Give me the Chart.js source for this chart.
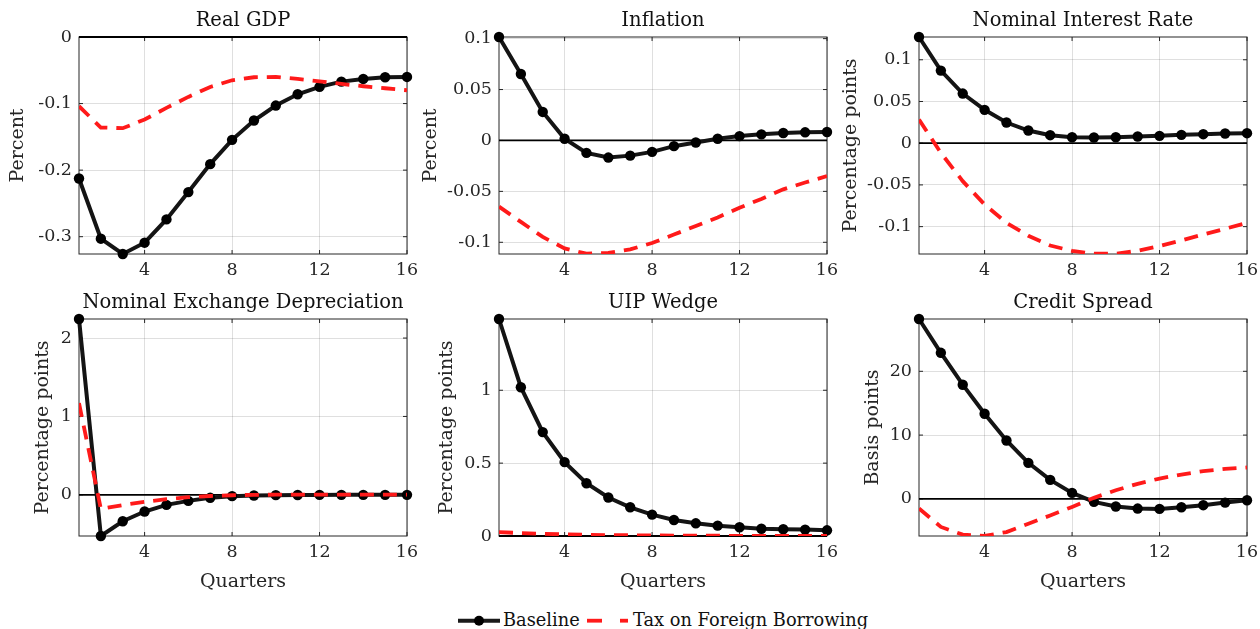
<!DOCTYPE html>
<html>
<head>
<meta charset="utf-8">
<script src="https://cdn.jsdelivr.net/npm/chart.js@4.4.1/dist/chart.umd.min.js"></script>
<style>
html,body{margin:0;padding:0;background:#fff;width:1260px;height:629px;overflow:hidden;}
.panel{position:absolute;}
.leg{position:absolute;font-family:'DejaVu Serif';font-size:17.8px;line-height:20px;color:#111;white-space:nowrap;}
svg{position:absolute;}
</style>
</head>
<body>
<div class="panel" style="left:0px;top:0px"><canvas id="c1" width="420" height="290"></canvas></div>
<div class="panel" style="left:420px;top:0px"><canvas id="c2" width="420" height="290"></canvas></div>
<div class="panel" style="left:840px;top:0px"><canvas id="c3" width="420" height="290"></canvas></div>
<div class="panel" style="left:0px;top:282px"><canvas id="c4" width="420" height="318"></canvas></div>
<div class="panel" style="left:420px;top:282px"><canvas id="c5" width="420" height="318"></canvas></div>
<div class="panel" style="left:840px;top:282px"><canvas id="c6" width="420" height="318"></canvas></div>

<svg style="left:456px;top:611px" width="48" height="20">
  <line x1="2" y1="9.7" x2="44" y2="9.7" stroke="#1a1a1a" stroke-width="4"/>
  <circle cx="23" cy="9.7" r="5" fill="#000"/>
</svg>
<div class="leg" style="left:503px;top:610px">Baseline</div>
<svg style="left:585px;top:611px" width="48" height="20">
  <line x1="2" y1="9.7" x2="17" y2="9.7" stroke="#ff1a1a" stroke-width="3.8"/>
  <line x1="35" y1="9.7" x2="43" y2="9.7" stroke="#ff1a1a" stroke-width="3.8"/>
</svg>
<div class="leg" style="left:633px;top:610px">Tax on Foreign Borrowing</div>

<script>
// ---------------- data ----------------
const quarters = [1,2,3,4,5,6,7,8,9,10,11,12,13,14,15,16];
const xTicks = [4, 8, 12, 16];
const seriesNames = ['Baseline', 'Tax on Foreign Borrowing'];

const titles = ['Real GDP', 'Inflation', 'Nominal Interest Rate', 'Nominal Exchange Depreciation', 'UIP Wedge', 'Credit Spread'];
const yLabels = ['Percent', 'Percent', 'Percentage points', 'Percentage points', 'Percentage points', 'Basis points'];
const xLabel = 'Quarters';

const gdpBase = [-0.2125,-0.303,-0.326,-0.309,-0.274,-0.233,-0.191,-0.1545,-0.1255,-0.103,-0.086,-0.075,-0.067,-0.063,-0.0605,-0.060];
const gdpTax  = [-0.104,-0.136,-0.137,-0.124,-0.1065,-0.090,-0.075,-0.065,-0.0605,-0.060,-0.063,-0.0665,-0.0705,-0.074,-0.077,-0.080];

const inflBase = [0.1016,0.0653,0.028,0.0017,-0.0122,-0.0168,-0.0149,-0.0112,-0.0056,-0.002,0.0017,0.0043,0.006,0.0073,0.008,0.0083];
const inflTax  = [-0.065,-0.080,-0.0947,-0.106,-0.1112,-0.1105,-0.107,-0.1007,-0.0924,-0.084,-0.0756,-0.066,-0.0574,-0.048,-0.0413,-0.035];

const rateBase = [0.1273,0.087,0.0595,0.040,0.0248,0.0152,0.0096,0.0072,0.0068,0.0072,0.008,0.0088,0.010,0.0108,0.0116,0.012];
const rateTax  = [0.0283,-0.0116,-0.0455,-0.0735,-0.0954,-0.111,-0.1226,-0.129,-0.1325,-0.1325,-0.129,-0.1233,-0.1166,-0.1094,-0.1026,-0.0954];

const depBase = [2.243,-0.525,-0.337,-0.213,-0.128,-0.077,-0.038,-0.017,-0.009,-0.004,-0.002,-0.001,0,0,0,0];
const depTax  = [1.17,-0.18,-0.13,-0.09,-0.055,-0.03,-0.015,-0.005,0,0.002,0.003,0.004,0.004,0.004,0.003,0.003];

const uipBase = [1.489,1.021,0.713,0.507,0.362,0.264,0.197,0.147,0.110,0.087,0.071,0.060,0.050,0.046,0.044,0.039];
const uipTax  = [0.026,0.02,0.015,0.011,0.008,0.006,0.005,0.004,0.003,0.002,0.002,0.001,0.001,0.001,0.001,0.001];

const csBase = [28.2,22.9,17.9,13.35,9.16,5.65,2.98,0.94,-0.47,-1.2,-1.52,-1.57,-1.31,-0.99,-0.58,-0.21];
const csTax  = [-1.5,-4.4,-5.6,-5.8,-5.2,-3.9,-2.6,-1.26,0.16,1.36,2.36,3.19,3.82,4.35,4.7,4.92];

const yTicks1 = [-0.3,-0.2,-0.1,0];
const yTicks2 = [-0.1,-0.05,0,0.05,0.1];
const yTicks3 = [-0.1,-0.05,0,0.05,0.1];
const yTicks4 = [0,1,2];
const yTicks5 = [0,0.5,1];
const yTicks6 = [0,10,20];

const yMins = [-0.326, -0.1115, -0.1328, -0.525, 0, -5.82];
const yMaxs = [0, 0.1016, 0.1273, 2.243, 1.489, 28.2];

// ---------------- styling ----------------
const FONT = 'DejaVu Serif';
const TXT = '#262626';

const framePlugin = {
  id: 'frame',
  beforeDatasetsDraw(chart) {
    const {ctx, chartArea: a, scales: {x, y}} = chart;
    const seg = (x1, y1, x2, y2) => { ctx.beginPath(); ctx.moveTo(x1, y1); ctx.lineTo(x2, y2); ctx.stroke(); };
    ctx.save();
    ctx.strokeStyle = '#262626';
    ctx.lineWidth = 1;
    ctx.strokeRect(a.left, a.top, a.right - a.left, a.bottom - a.top);
    x.ticks.forEach(t => {
      const px = x.getPixelForValue(t.value);
      seg(px, a.bottom, px, a.bottom - 4);
      seg(px, a.top, px, a.top + 4);
    });
    y.ticks.forEach(t => {
      const py = y.getPixelForValue(t.value);
      seg(a.left, py, a.left + 4, py);
      seg(a.right, py, a.right - 4, py);
    });
    const y0 = y.getPixelForValue(0);
    if (y0 >= a.top - 0.5 && y0 <= a.bottom + 0.5) {
      ctx.strokeStyle = '#000';
      ctx.lineWidth = 1.8;
      seg(a.left, y0, a.right, y0);
    }
    ctx.restore();
  }
};

function makePanel(canvasId, idx, base, tax, yTicks, bottomRow, yTitlePad) {
  const toPts = vals => quarters.map((q, i) => ({x: q, y: vals[i]}));
  return new Chart(document.getElementById(canvasId), {
    type: 'line',
    data: {
      datasets: [
        {
          label: seriesNames[1], data: toPts(tax),
          borderColor: '#ff1a1a', borderWidth: 3.8, borderDash: [14, 9],
          pointRadius: 0, tension: 0, fill: false, clip: 0, order: 0
        },
        {
          label: seriesNames[0], data: toPts(base),
          borderColor: '#141414', borderWidth: 4,
          pointRadius: 5.2, pointBackgroundColor: '#000', pointBorderWidth: 0,
          tension: 0, fill: false, clip: false, order: 1
        }
      ]
    },
    options: {
      responsive: false, animation: false, events: [],
      layout: {padding: {left: 0, right: 13, top: 0, bottom: 0}},
      plugins: {
        legend: {display: false}, tooltip: {enabled: false},
        title: {
          display: true, text: titles[idx], fullSize: false,
          color: '#111', font: {family: FONT, size: 19.5, weight: 'normal', lineHeight: 1.2},
          padding: {top: 9, bottom: 4.6}
        }
      },
      scales: {
        x: {
          type: 'linear', min: 1, max: 16,
          afterBuildTicks: s => { s.ticks = xTicks.map(v => ({value: v})); },
          afterFit: s => { s.height = bottomRow ? 64 : 36; s.paddingLeft = 0; s.paddingRight = 0; },
          grid: {color: 'rgba(38,38,38,0.15)', lineWidth: 1, drawTicks: false},
          border: {display: false},
          ticks: {color: TXT, font: {family: FONT, size: 17.5}, padding: 6, maxRotation: 0, autoSkip: false,
                  callback: v => String(v)},
          title: {display: bottomRow, text: xLabel, color: TXT,
                  font: {family: FONT, size: 19, lineHeight: 1.2}, padding: {top: 0, bottom: 6.5}}
        },
        y: {
          type: 'linear', min: yMins[idx], max: yMaxs[idx],
          afterBuildTicks: s => { s.ticks = yTicks.map(v => ({value: v})); },
          afterFit: s => { s.width = 79; s.paddingTop = 0; s.paddingBottom = 0; },
          grid: {color: 'rgba(38,38,38,0.15)', lineWidth: 1, drawTicks: false},
          border: {display: false},
          ticks: {color: TXT, font: {family: FONT, size: 17.5}, padding: 7, autoSkip: false,
                  callback: v => String(v)},
          title: {display: true, text: yLabels[idx], color: TXT,
                  font: {family: FONT, size: 19, lineHeight: 1.2}, padding: {top: yTitlePad, bottom: 0}}
        }
      }
    },
    plugins: [framePlugin]
  });
}

makePanel('c1', 0, gdpBase, gdpTax, yTicks1, false, 7);
makePanel('c2', 1, inflBase, inflTax, yTicks2, false, 0);
makePanel('c3', 2, rateBase, rateTax, yTicks3, false, 0);
makePanel('c4', 3, depBase, depTax, yTicks4, true, 32);
makePanel('c5', 4, uipBase, uipTax, yTicks5, true, 16);
makePanel('c6', 5, csBase, csTax, yTicks6, true, 22);
</script>
</body>
</html>
